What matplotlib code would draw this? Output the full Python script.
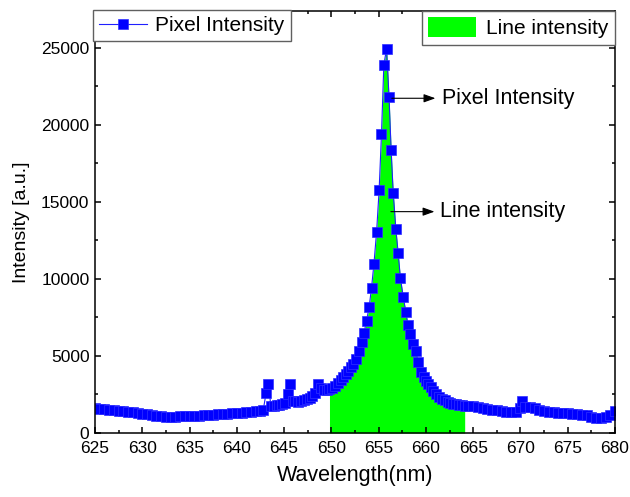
import matplotlib.pyplot as plt
from matplotlib.ticker import MultipleLocator

plt.rcParams["font.family"] = ["Liberation Sans", "DejaVu Sans"]

wavelength = [
    625.0, 625.5, 626.0, 626.5, 627.0, 627.5, 628.0, 628.5, 629.0, 629.5,
    630.0, 630.5, 631.0, 631.5, 632.0, 632.5, 633.0, 633.5, 634.0, 634.5,
    635.0, 635.5, 636.0, 636.5, 637.0, 637.5, 638.0, 638.5, 639.0, 639.5,
    640.0, 640.5, 641.0, 641.5, 642.0, 642.5, 642.8, 643.1, 643.35, 643.6,
    643.9, 644.2, 644.5, 644.8, 645.1, 645.4, 645.65, 645.9, 646.2, 646.5,
    646.8, 647.1, 647.4, 647.7, 648.0, 648.3, 648.6, 648.9, 649.2, 649.5,
    649.8, 650.1, 650.4, 650.7, 651.0, 651.25, 651.5, 651.8, 652.05, 652.3,
    652.6, 652.9, 653.2, 653.45, 653.72, 654.0, 654.25, 654.5, 654.78, 655.05,
    655.3, 655.55, 655.84, 656.1, 656.32, 656.54, 656.82, 657.06, 657.3, 657.6,
    657.88, 658.1, 658.35, 658.62, 658.9, 659.2, 659.5, 659.75, 660.0, 660.25,
    660.5, 660.8, 661.1, 661.4, 661.7, 662.0, 662.3, 662.6, 662.9, 663.2,
    663.5, 663.8, 664.1, 664.5, 665.0, 665.5, 666.0, 666.5, 667.0, 667.5,
    668.0, 668.5, 669.0, 669.5, 670.0, 670.2, 670.5, 671.0, 671.5, 672.0,
    672.5, 673.0, 673.5, 674.0, 674.5, 675.0, 675.5, 676.0, 676.5, 677.0,
    677.5, 678.0, 678.5, 679.0, 679.5, 680.0,
]
intensity = [
    1620, 1580, 1540, 1500, 1470, 1440, 1400, 1360, 1330, 1290,
    1250, 1210, 1170, 1130, 1090, 1060, 1050, 1060, 1080, 1100,
    1110, 1120, 1130, 1150, 1170, 1190, 1210, 1230, 1250, 1270,
    1290, 1310, 1330, 1360, 1400, 1450, 1520, 2600, 3150, 1750,
    1780, 1800, 1830, 1880, 1950, 2500, 3150, 2100, 2050, 2020,
    2060, 2130, 2200, 2300, 2430, 2620, 3150, 2950, 2800, 2780,
    2850, 2950, 3080, 3230, 3420, 3620, 3830, 4050, 4280, 4450,
    4800, 5300, 5900, 6500, 7270, 8200, 9440, 10960, 13030, 15750,
    19400, 23900, 24950, 21800, 18400, 15600, 13250, 11700, 10070, 8830,
    7850, 7000, 6420, 5790, 5350, 4600, 3950, 3650, 3390, 3150,
    2960, 2730, 2520, 2350, 2230, 2120, 2000, 1950, 1900, 1860,
    1830, 1800, 1780, 1750, 1720, 1680, 1620, 1560, 1500, 1460,
    1420, 1380, 1360, 1380, 1600, 2050, 1700, 1680, 1620, 1520,
    1450, 1380, 1340, 1320, 1300, 1280, 1250, 1220, 1180, 1150,
    1050, 1000, 1000, 1050, 1150, 1400,
]

line_start, line_end = 649.8, 664.2

fig = plt.figure(figsize=(6.3, 4.97), dpi=100)
ax = fig.add_axes([0.1508, 0.1288, 0.8254, 0.8492])

in_line = [line_start <= w <= line_end for w in wavelength]
fill = ax.fill_between(wavelength, 0, intensity, where=in_line, color="#00ff00",
                       linewidth=0, label="Line intensity", zorder=1)
pix, = ax.plot(wavelength, intensity, "-s", color="#2020ff", linewidth=0.8,
               markersize=7, markerfacecolor="#0000ff", markeredgecolor="#3030ff",
               markeredgewidth=0.5, label="Pixel Intensity", zorder=2)

ax.set_xlim(625, 680)
ax.set_ylim(0, 27400)
ax.xaxis.set_major_locator(MultipleLocator(5))
ax.xaxis.set_minor_locator(MultipleLocator(2.5))
ax.yaxis.set_major_locator(MultipleLocator(5000))
ax.yaxis.set_minor_locator(MultipleLocator(2500))
ax.tick_params(which="both", direction="in", top=True, right=True, width=1.1)
ax.tick_params(which="major", length=4.5, labelsize=12.5)
ax.tick_params(which="minor", length=2.5)
ax.tick_params(axis="x", which="major", pad=6)
ax.tick_params(axis="y", which="major", pad=4)
for s in ax.spines.values():
    s.set_linewidth(1.1)

ax.set_xlabel("Wavelength(nm)", fontsize=15.5, labelpad=6)
ax.set_ylabel("Intensity [a.u.]", fontsize=14, labelpad=8)

arrow = dict(arrowstyle="-|>,head_length=0.7,head_width=0.25", color="black", lw=0.8)
ax.annotate("", xy=(661.3, 21730), xytext=(656.1, 21730), arrowprops=arrow)
ax.text(661.65, 21730, "Pixel Intensity", fontsize=15.5, va="center")
ax.annotate("", xy=(661.2, 14370), xytext=(656.0, 14370), arrowprops=arrow)
ax.text(661.5, 14370, "Line intensity", fontsize=15.5, va="center")

leg1 = ax.legend(handles=[pix], loc="upper left", bbox_to_anchor=(-0.004, 1.003),
                 borderaxespad=0, fontsize=15, fancybox=False, framealpha=1,
                 edgecolor="#606060", handlelength=2.3, borderpad=0.3, handletextpad=0.4)
leg1.get_frame().set_linewidth(1.0)
ax.add_artist(leg1)
leg2 = ax.legend(handles=[fill], loc="upper right", bbox_to_anchor=(1.0, 1.0),
                 borderaxespad=0, fontsize=15, fancybox=False, framealpha=1,
                 edgecolor="#606060", handlelength=2.3, handleheight=1.1,
                 borderpad=0.3, handletextpad=0.5)
leg2.get_frame().set_linewidth(1.0)

fig.savefig("out.png", dpi=100)
